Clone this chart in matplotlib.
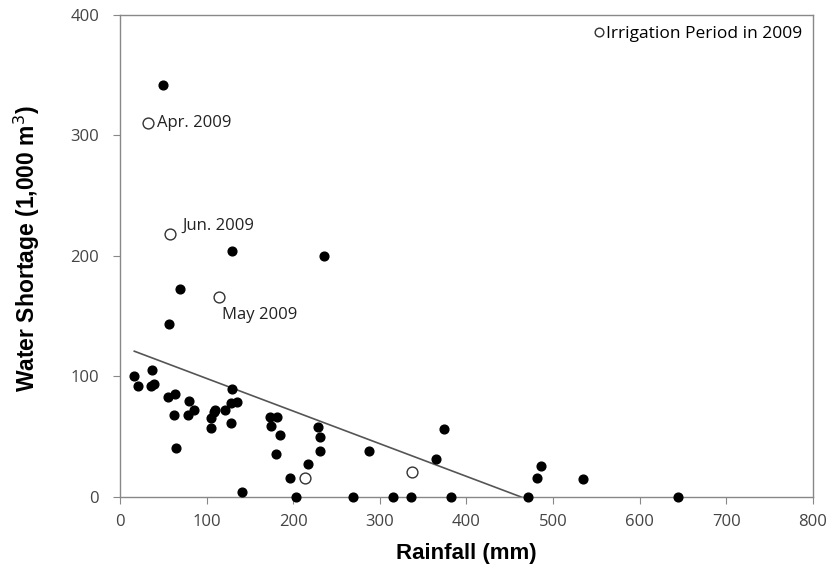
import matplotlib.pyplot as plt

# monthly rainfall (mm) vs water shortage (1,000 m3)
rain = [50, 129, 69, 235, 56, 16.5, 20.4, 36.9, 35.8, 39.2, 55.8, 63.8, 62.3, 64.6,
        80, 78.8, 85.8, 105.4, 105.4, 108, 109.6, 121, 128.8, 128, 134.6, 128, 141,
        173, 180.8, 173.8, 184.6, 179.6, 196, 203, 216.5, 229, 230.4, 230.4, 269,
        287.3, 315, 335.8, 365, 374.6, 382, 471, 481.5, 486.5, 535, 644]
short = [342, 203.7, 172.7, 200, 143.7, 100.4, 91.8, 105.4, 91.8, 93.2, 82.7, 85.2, 67.9, 40.2,
         79.3, 67.3, 71.5, 57.1, 65.2, 70.2, 72.1, 71.5, 89.3, 77.7, 78.5, 61.2, 3.5,
         66.2, 66.2, 58.7, 51.2, 35.7, 15.4, 0, 27, 57.4, 49.3, 38.2, 0,
         38.2, 0, 0, 31.2, 56.2, 0, 0, 15.2, 25.4, 14.6, 0]

# irrigation period in 2009
irr_rain = [32.7, 57.7, 114, 213.5, 337]
irr_short = [310, 218, 166, 15.4, 20.4]
irr_labels = ['Apr. 2009', 'Jun. 2009', 'May 2009', '', '']
label_pos = [(42.5, 310), (72.5, 225), (117.5, 150.5), None, None]

# linear trend
trend_slope = -0.2712
trend_intercept = 125.2

fig = plt.figure(figsize=(8.27, 5.69), dpi=100)
ax = fig.add_axes([0.1451, 0.1274, 0.983 - 0.1451, 0.9736 - 0.1274])

tx = [min(rain), max(rain)]
ty = [trend_intercept + trend_slope * v for v in tx]
ax.plot(tx, ty, color='#555555', lw=1.2, zorder=1)

ax.plot(rain, short, 'o', color='black', ms=6.3, zorder=3, clip_on=False)
ax.plot(irr_rain, irr_short, 'o', mfc='white', mec='#333333', mew=1.0, ms=7.8,
        zorder=3, label='Irrigation Period in 2009')

for lab, pos in zip(irr_labels, label_pos):
    if pos is None:
        continue
    ax.text(pos[0], pos[1], lab, fontsize=12, family='Open Sans', color='#222222',
            va='center', ha='left')

ax.set_xlim(0, 800)
ax.set_ylim(0, 400)
ax.set_xticks(range(0, 801, 100))
ax.set_yticks(range(0, 401, 100))

for s in ax.spines.values():
    s.set_color('#888888')
    s.set_linewidth(1.0)
ax.tick_params(direction='out', length=5, color='#888888', labelcolor='#444444',
               labelsize=12)
ax.tick_params(axis='x', pad=7.5)
ax.tick_params(axis='y', pad=10)
for t in ax.get_xticklabels() + ax.get_yticklabels():
    t.set_family('Open Sans')

ax.set_xlabel('Rainfall (mm)', fontsize=16, fontweight='bold', family='Liberation Sans')
ax.set_ylabel('Water Shortage (1,000 m$^3$)', fontsize=16.5, fontweight='bold',
              family='Liberation Sans')
ax.xaxis.set_label_coords(0.5, -0.097)
ax.yaxis.set_label_coords(-0.113, 0.515)

leg = ax.legend(loc='upper right', frameon=False, handlelength=0.8, handletextpad=0.05,
                markerscale=0.8, prop={'family': 'Open Sans', 'size': 12.5},
                borderaxespad=0.2)

plt.savefig('out.png', dpi=100)
